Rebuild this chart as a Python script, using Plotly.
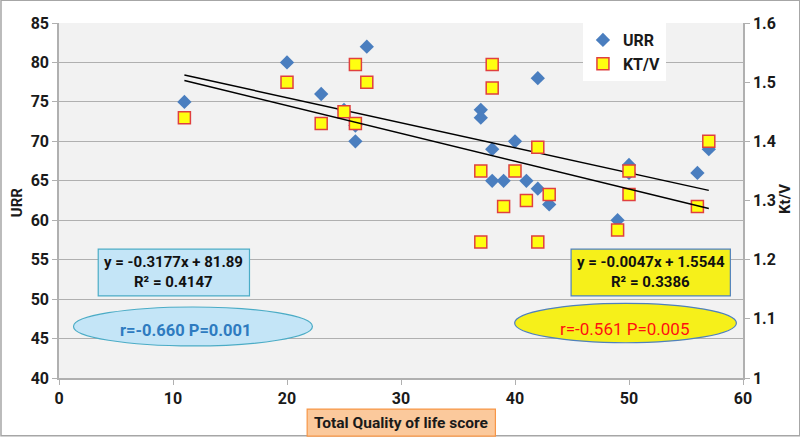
import plotly.graph_objects as go

# ---- data ----
qol_score = [11, 20, 23, 25, 26, 26, 27, 37, 37, 38, 38, 39, 40, 41, 42, 42, 43, 49, 50, 50, 56, 57]
urr = [75, 80, 76, 74, 70, 72, 82, 74, 73, 69, 65, 65, 70, 65, 78, 64, 62, 60, 67, 66, 66, 69]
ktv = [1.44, 1.50, 1.43, 1.45, 1.53, 1.43, 1.50, 1.35, 1.23, 1.53, 1.49, 1.29, 1.35, 1.30, 1.39, 1.23, 1.31, 1.25, 1.35, 1.31, 1.29, 1.40]

urr_fit = [-0.3177, 81.89]     # slope, intercept
ktv_fit = [-0.0047, 1.5544]
urr_eq = ["y = -0.3177x + 81.89", "R² = 0.4147"]
ktv_eq = ["y = -0.0047x + 1.5544", "R² = 0.3386"]
urr_stat = "r=-0.660 P=0.001"
ktv_stat = "r=-0.561 P=0.005"

x_ticks = [0, 10, 20, 30, 40, 50, 60]
left_ticks = [40, 45, 50, 55, 60, 65, 70, 75, 80, 85]
right_ticks = [1, 1.1, 1.2, 1.3, 1.4, 1.5, 1.6]

FONT = "Roboto"
GRID = "#B0B0B0"

xmin, xmax = min(qol_score), max(qol_score)
fit_x = [xmin, xmax]

fig = go.Figure()
fig.add_trace(go.Scatter(
    x=qol_score, y=urr, mode="markers", name="URR",
    marker=dict(symbol="diamond", size=11, color="#4A7EBF", line=dict(width=0)),
))
fig.add_trace(go.Scatter(
    x=qol_score, y=ktv, mode="markers", name="KT/V", yaxis="y2",
    marker=dict(symbol="square", size=12, color="#FFFF10", line=dict(width=1.5, color="#E0403F")),
))
fig.add_trace(go.Scatter(
    x=fit_x, y=[urr_fit[0] * v + urr_fit[1] for v in fit_x], mode="lines",
    line=dict(color="black", width=1.5), showlegend=False, hoverinfo="skip",
))
fig.add_trace(go.Scatter(
    x=fit_x, y=[ktv_fit[0] * v + ktv_fit[1] for v in fit_x], mode="lines", yaxis="y2",
    line=dict(color="black", width=1.5), showlegend=False, hoverinfo="skip",
))

axis_font = dict(family=FONT, size=16, color="#1A1A1A", weight="bold")

fig.update_layout(
    width=800, height=437,
    margin=dict(l=58.5, r=57.3, t=23.3, b=59, autoexpand=False),
    paper_bgcolor="white", plot_bgcolor="#F2F2F2",
    font=dict(family=FONT),
    xaxis=dict(range=[0, 60], tickvals=x_ticks, showgrid=False, zeroline=False,
               showline=True, linecolor=GRID, linewidth=1.5, ticks="outside",
               ticklen=5, tickcolor=GRID, tickfont=axis_font),
    yaxis=dict(range=[40, 85], tickvals=left_ticks, showgrid=True, gridcolor=GRID,
               gridwidth=1.2, zeroline=False, showline=True, linecolor=GRID, linewidth=1.5,
               ticks="outside", ticklen=5, tickcolor=GRID, tickfont=axis_font),
    yaxis2=dict(range=[1, 1.6], tickvals=right_ticks, overlaying="y", side="right",
                showgrid=False, zeroline=False, showline=True, linecolor=GRID, linewidth=1.5,
                ticks="outside", ticklen=5, tickcolor=GRID, tickfont=axis_font),
    legend=dict(x=0.766, y=1.0, xanchor="left", yanchor="top", bgcolor="white",
                font=dict(family=FONT, size=16, color="#1A1A1A", weight="bold"),
                itemwidth=30, tracegroupgap=0),
    showlegend=True,
)

shapes = [
    # outer border
    dict(type="rect", xref="paper", yref="paper", x0=-0.0848, x1=1.083, y0=-0.163, y1=1.064,
         line=dict(color="#A6A6A6", width=1.5), fillcolor="rgba(0,0,0,0)", layer="above"),
    # x title box
    dict(type="rect", xref="paper", yref="paper", x0=0.3628, x1=0.638, y0=-0.1635, y1=-0.0874,
         line=dict(color="#F79646", width=1.2), fillcolor="#FBC99C"),
    # URR equation box
    dict(type="rect", xref="x", yref="y", x0=3.44, x1=16.71, y0=50.4, y1=56.33,
         line=dict(color="#4BACC6", width=1.2), fillcolor="#C4E5F7"),
    # KT/V equation box
    dict(type="rect", xref="x", yref="y", x0=44.92, x1=58.89, y0=50.4, y1=56.33,
         line=dict(color="#4F81BD", width=1.2), fillcolor="#F6F01A"),
    # URR ellipse
    dict(type="circle", xref="x", yref="y", x0=1.27, x1=22.23, y0=44.06, y1=49.0,
         line=dict(color="#4BACC6", width=1.2), fillcolor="#C4E5F7"),
    # KT/V ellipse
    dict(type="circle", xref="x", yref="y", x0=39.97, x1=59.42, y0=44.47, y1=49.47,
         line=dict(color="#4F81BD", width=1.2), fillcolor="#F6F01A"),
]
fig.update_layout(shapes=shapes)

bold15 = dict(family=FONT, size=15, color="#111111", weight="bold")
C = dict(xanchor="center", yanchor="middle", showarrow=False)
annotations = [
    dict(text="Total Quality of life score", xref="paper", yref="paper", x=0.5005, y=-0.1255,
         font=dict(family=FONT, size=15.5, color="#1A1A1A", weight="bold"), **C),
    dict(text="URR", xref="paper", yref="paper", x=-0.0621, y=0.494, textangle=-90,
         font=dict(family=FONT, size=15, color="#1A1A1A", weight="bold"), **C),
    dict(text="Kt/V", xref="paper", yref="paper", x=1.0617, y=0.505, textangle=-90,
         font=dict(family=FONT, size=15, color="#1A1A1A", weight="bold"), **C),
    dict(text=urr_eq[0], xref="x", yref="y", x=10.07, y=54.76, font=bold15, **C),
    dict(text=urr_eq[1], xref="x", yref="y", x=10.07, y=52.2, font=bold15, **C),
    dict(text=ktv_eq[0], xref="x", yref="y", x=51.9, y=54.76, font=bold15, **C),
    dict(text=ktv_eq[1], xref="x", yref="y", x=51.9, y=52.2, font=bold15, **C),
    dict(text=urr_stat, xref="x", yref="y", x=11.1, y=46.0,
         font=dict(family=FONT, size=16.5, color="#2E7BC0", weight="bold"), **C),
    dict(text=ktv_stat, xref="x", yref="y", x=49.6, y=46.25,
         font=dict(family=FONT, size=17, color="#FF1010"), **C),
]
fig.update_layout(annotations=annotations)

fig.write_html("out.html", config={"displayModeBar": False},
               post_script="document.body.style.margin='0px';")
